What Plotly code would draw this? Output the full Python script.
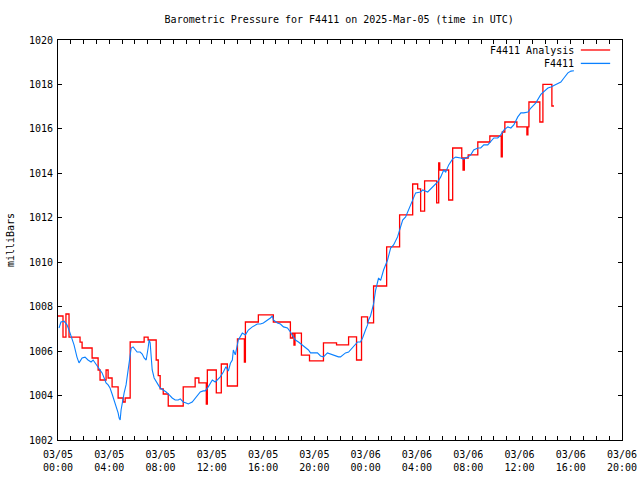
import pandas as pd
import plotly.graph_objects as go

# ---- data (hours after 2025-03-05 00:00 UTC, pressure in mb) ----
obs_hours = [0.08, 0.23, 0.47, 0.70, 0.86, 1.09, 1.25, 1.48, 1.64, 1.88, 2.11, 2.34, 2.58, 2.74, 2.89,
             3.13, 3.28, 3.44, 3.60, 3.75, 3.91, 4.06, 4.22, 4.38, 4.53, 4.69, 4.77, 4.85, 4.92, 5.00,
             5.16, 5.31, 5.47, 5.63, 5.71, 5.86, 6.02, 6.17, 6.41, 6.57, 6.72, 6.88, 7.03, 7.11, 7.19,
             7.27, 7.35, 7.50, 7.66, 7.82, 7.97, 8.21, 8.44, 8.68, 8.91, 9.14, 9.38, 9.54, 9.77, 10.00,
             10.16, 10.47, 10.71, 10.94, 11.10, 11.33, 11.49, 11.72, 12.04, 12.27, 12.43, 12.66, 12.90,
             13.10, 13.29, 13.45, 13.60, 13.68, 13.83, 14.07, 14.38, 14.62, 14.85, 15.16, 15.55, 15.79,
             16.02, 16.41, 16.57, 16.73, 16.80, 17.12, 17.35, 17.59, 17.90, 18.13, 18.29, 18.52, 18.76,
             19.07, 19.30, 19.54, 19.70, 19.93, 20.24, 20.48, 20.71, 21.02, 21.26, 21.41, 21.65, 21.88,
             22.04, 22.43, 22.67, 23.06, 23.37, 23.60, 23.76, 23.99, 24.15, 24.23, 24.38, 24.62, 24.78,
             25.01, 25.17, 25.40, 25.71, 25.95, 26.18, 26.49, 26.73, 26.89, 27.12, 27.35, 27.67, 27.90,
             28.29, 28.45, 28.84, 29.23, 29.62, 29.86, 30.09, 30.25, 30.48, 30.79, 31.03, 31.42, 31.65,
             31.97, 32.20, 32.43, 32.75, 32.98, 33.22, 33.53, 33.76, 34.00, 34.31, 34.54, 34.78, 35.09,
             35.33, 35.56, 35.87, 36.11, 36.34, 36.66, 36.89, 37.28, 37.67, 37.91, 38.22, 38.45, 38.69,
             39.00, 39.23, 39.47, 39.78, 40.02, 40.25]
obs_mb = [1007.04, 1007.31, 1007.35, 1007.18, 1006.95, 1006.59, 1006.28, 1005.73, 1005.47, 1005.69,
          1005.73, 1005.60, 1005.51, 1005.60, 1005.47, 1005.24, 1005.15, 1005.02, 1004.79, 1004.57,
          1004.48, 1004.34, 1004.07, 1003.80, 1003.49, 1003.22, 1002.99, 1002.90, 1003.35, 1003.67,
          1004.12, 1004.48, 1005.15, 1005.82, 1006.14, 1006.19, 1006.05, 1005.96, 1005.96, 1005.87,
          1005.69, 1005.60, 1006.14, 1006.50, 1006.37, 1005.82, 1005.15, 1004.79, 1004.61, 1004.48,
          1004.34, 1004.25, 1004.16, 1004.03, 1003.89, 1003.80, 1003.80, 1003.85, 1003.71, 1003.66,
          1003.62, 1003.71, 1003.89, 1004.03, 1004.16, 1004.21, 1004.21, 1004.39, 1004.70, 1004.61,
          1004.70, 1004.84, 1005.06, 1005.30, 1005.10, 1005.45, 1005.60, 1006.05, 1005.83, 1006.50,
          1006.81, 1006.73, 1006.95, 1007.09, 1007.22, 1007.22, 1007.27, 1007.40, 1007.49, 1007.58,
          1007.40, 1007.27, 1007.22, 1007.09, 1007.04, 1006.86, 1006.72, 1006.50, 1006.41, 1006.28,
          1006.19, 1006.05, 1005.92, 1005.92, 1005.92, 1005.78, 1005.74, 1005.92, 1005.87, 1005.83,
          1005.78, 1005.74, 1005.74, 1005.92, 1005.96, 1006.19, 1006.41, 1006.41, 1006.59, 1006.95,
          1007.18, 1007.40, 1007.58, 1008.12, 1008.75, 1009.29, 1009.18, 1009.65, 1010.10, 1010.64,
          1010.78, 1011.14, 1011.59, 1011.90, 1012.04, 1012.35, 1012.80, 1013.12, 1013.16, 1013.25,
          1013.16, 1013.39, 1013.61, 1013.84, 1014.15, 1014.06, 1014.38, 1014.65, 1014.73, 1014.69,
          1014.64, 1014.73, 1014.83, 1015.05, 1015.14, 1015.14, 1015.28, 1015.28, 1015.41, 1015.59,
          1015.59, 1015.73, 1015.95, 1016.09, 1016.04, 1016.18, 1016.54, 1016.72, 1016.72, 1016.76,
          1016.94, 1017.17, 1017.55, 1017.66, 1017.84, 1017.89, 1017.95, 1018.04, 1018.11, 1018.29,
          1018.52, 1018.60, 1018.62]

ana_hours = [0.00, 0.39, 0.62, 0.86, 1.72, 1.88, 2.66, 3.13, 3.28, 3.75, 3.91, 4.22, 4.69, 5.08, 5.24,
             5.63, 6.72, 7.03, 7.66, 7.82, 7.97, 8.21, 8.60, 9.77, 10.70, 10.99, 11.57, 11.65, 12.35,
             12.74, 13.21, 14.00, 14.54, 14.62, 15.63, 16.80, 18.13, 18.29, 18.41, 18.49, 18.99, 19.62,
             20.71, 21.73, 22.67, 23.29, 23.68, 24.15, 24.62, 25.64, 26.65, 27.67, 28.06, 28.29, 28.60,
             29.54, 29.70, 29.78, 30.48, 30.79, 31.50, 31.60, 31.70, 32.00, 32.75, 33.69, 34.58, 34.66,
             34.86, 35.80, 36.58, 36.66, 36.74, 37.59, 37.83, 38.53, 38.69]
ana_mb = [1007.58, 1006.63, 1007.67, 1006.63, 1006.40, 1006.14, 1005.69, 1005.15, 1004.70, 1005.15,
          1004.79, 1004.39, 1003.89, 1003.71, 1003.89, 1006.41, 1006.63, 1006.50, 1005.60, 1004.90,
          1004.30, 1004.07, 1003.53, 1004.39, 1004.79, 1004.57, 1003.62, 1005.15, 1004.12, 1005.42,
          1004.43, 1006.55, 1005.51, 1007.31, 1007.63, 1007.31, 1006.59, 1006.81, 1006.27, 1006.81,
          1005.82, 1005.56, 1006.37, 1006.28, 1006.64, 1005.60, 1007.54, 1007.27, 1008.93, 1010.69,
          1012.13, 1013.52, 1013.30, 1012.30, 1013.66, 1012.67, 1014.47, 1014.15, 1012.80, 1015.14,
          1014.69, 1014.15, 1014.69, 1014.83, 1015.41, 1015.68, 1014.74, 1015.86, 1016.31, 1016.09,
          1015.73, 1016.09, 1017.21, 1016.31, 1018.00, 1017.03, 1017.03]

tick_hours = [0, 4, 8, 12, 16, 20, 24, 28, 32, 36, 40, 44]
tick_labels = ["03/05<br>00:00", "03/05<br>04:00", "03/05<br>08:00", "03/05<br>12:00",
               "03/05<br>16:00", "03/05<br>20:00", "03/06<br>00:00", "03/06<br>04:00",
               "03/06<br>08:00", "03/06<br>12:00", "03/06<br>16:00", "03/06<br>20:00"]
y_ticks = [1002, 1004, 1006, 1008, 1010, 1012, 1014, 1016, 1018, 1020]

base = pd.Timestamp("2025-03-05 00:00")
to_t = lambda hs: [base + pd.Timedelta(hours=h) for h in hs]

RED = "#ff0000"
BLUE = "#0a80ff"
FONT = "DejaVu Sans Mono"

fig = go.Figure()
fig.add_trace(go.Scatter(x=to_t(ana_hours), y=ana_mb, mode="lines", line=dict(color=RED, width=1.3, shape="hv"),
                         name="F4411 Analysis", showlegend=False))
fig.add_trace(go.Scatter(x=to_t(obs_hours), y=obs_mb, mode="lines", line=dict(color=BLUE, width=1.1),
                         name="F4411", showlegend=False))

axis_common = dict(showline=True, linecolor="black", linewidth=1, mirror="allticks", ticks="inside",
                   ticklen=4, tickcolor="black", showgrid=False, zeroline=False, automargin=False,
                   tickfont=dict(family=FONT, size=10, color="black"))
fig.update_xaxes(**axis_common, range=[base, base + pd.Timedelta(hours=44)],
                 tickvals=to_t(tick_hours), ticktext=tick_labels, ticklabelstandoff=5,
                 minor=dict(ticks="inside", ticklen=4, tickcolor="black", dtick=3600000, showgrid=False))
fig.update_yaxes(**axis_common, range=[1002, 1020], tickvals=y_ticks, ticklabelstandoff=2,
                 title=dict(text="milliBars", font=dict(family=FONT, size=10, color="black"), standoff=12))

# manual legend (text left of sample line, gnuplot style)
for i, (label, col) in enumerate([("F4411 Analysis", RED), ("F4411", BLUE)]):
    yp = 0.975 - i * 0.0335
    fig.add_annotation(xref="paper", yref="paper", x=0.918, y=yp, text=label, showarrow=False,
                       xanchor="right", yanchor="middle", font=dict(family=FONT, size=10, color="black"))
    fig.add_shape(type="line", xref="paper", yref="paper", x0=0.927, x1=0.979, y0=yp, y1=yp,
                  line=dict(color=col, width=1.3))

fig.update_layout(
    width=640, height=480,
    margin=dict(l=58, r=18, t=40, b=40, autoexpand=False),
    paper_bgcolor="white", plot_bgcolor="white",
    title=dict(text="Barometric Pressure for F4411 on 2025-Mar-05 (time in UTC)", x=0.53, xanchor="center",
               y=0.96, yanchor="middle", font=dict(family=FONT, size=10, color="black")),
)

fig.write_html("out.html")
